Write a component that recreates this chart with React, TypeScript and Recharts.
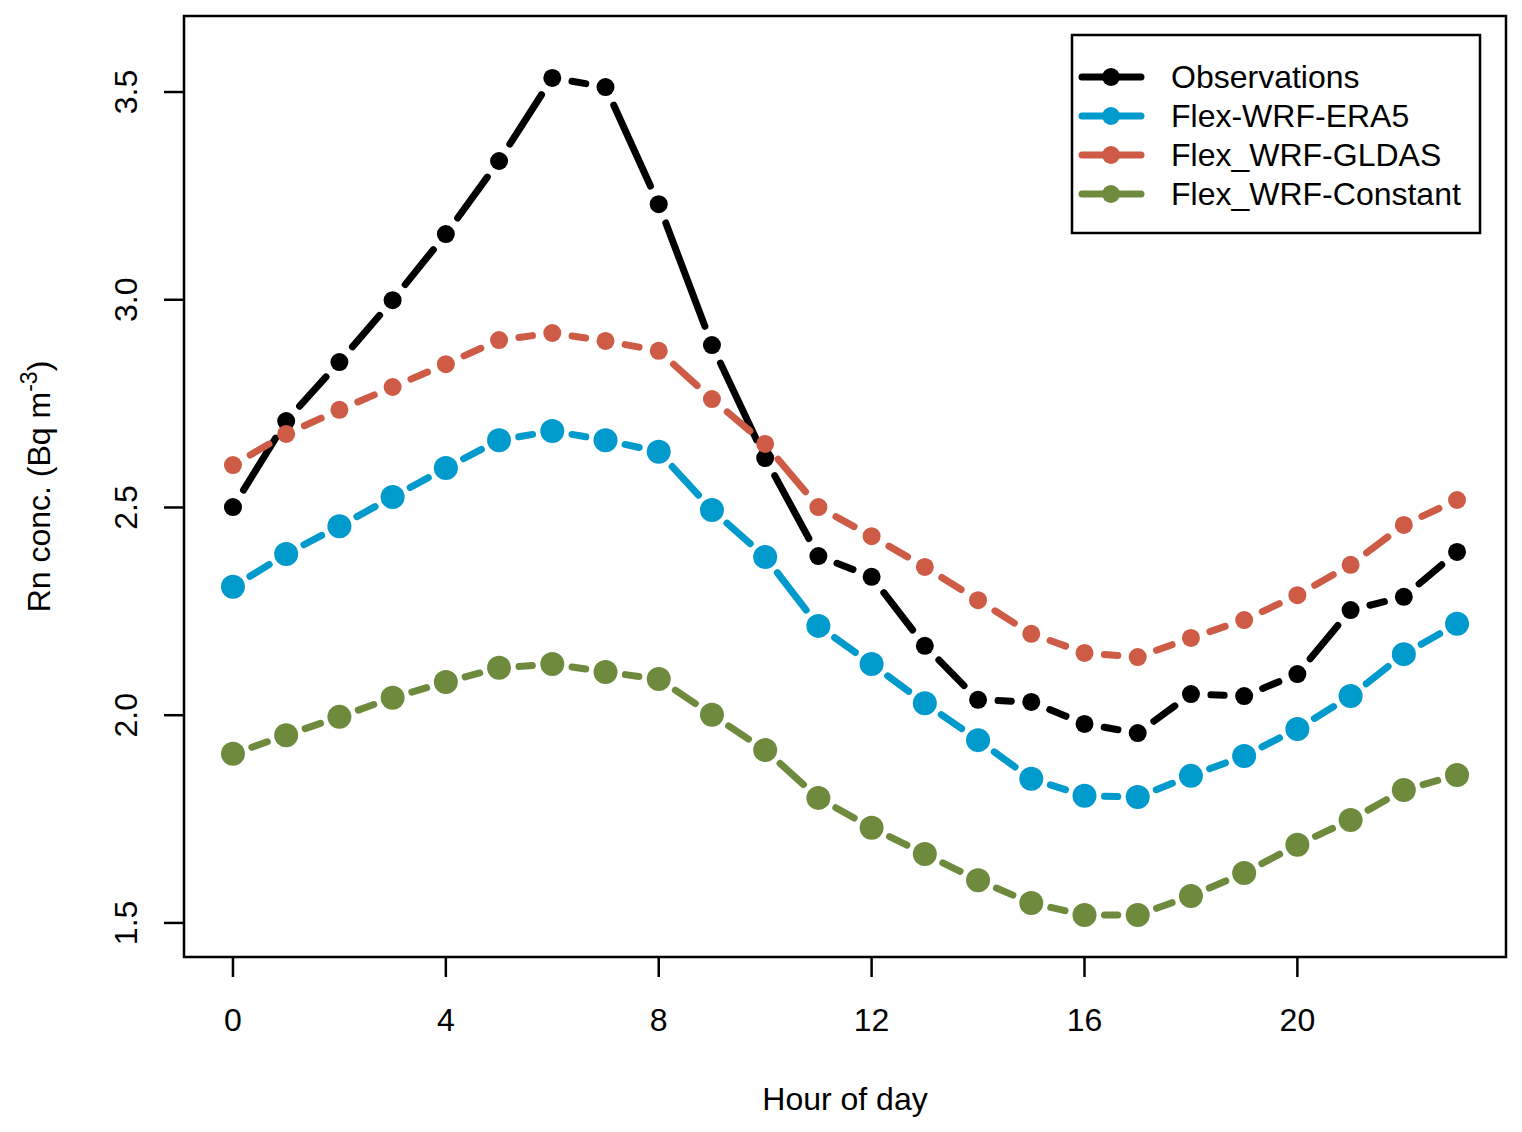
import { LineChart, Line, XAxis, YAxis, ReferenceArea } from "recharts";

// ---------------------------------------------------------------------------
// Data
// ---------------------------------------------------------------------------

const hours = [0, 1, 2, 3, 4, 5, 6, 7, 8, 9, 10, 11, 12, 13, 14, 15, 16, 17, 18, 19, 20, 21, 22, 23];

const observations = [
  2.501, 2.708, 2.85, 2.999, 3.158, 3.334, 3.534, 3.512, 3.23, 2.891, 2.619, 2.383,
  2.333, 2.167, 2.037, 2.032, 1.979, 1.957, 2.051, 2.046, 2.099, 2.253, 2.285, 2.393,
];

const era5 = [
  2.309, 2.388, 2.455, 2.525, 2.595, 2.662, 2.684, 2.662, 2.634, 2.494, 2.381, 2.215,
  2.123, 2.029, 1.94, 1.847, 1.806, 1.803, 1.854, 1.902, 1.967, 2.046, 2.147, 2.22,
];

const gldas = [
  2.602, 2.677, 2.735, 2.79, 2.845, 2.903, 2.92, 2.901, 2.877, 2.761, 2.653, 2.501,
  2.431, 2.357, 2.277, 2.196, 2.15, 2.14, 2.186, 2.229, 2.289, 2.362, 2.458, 2.518,
];

const constant = [
  1.907, 1.952, 1.996, 2.042, 2.08, 2.114, 2.123, 2.104, 2.087, 2.001, 1.916, 1.801,
  1.729, 1.666, 1.603, 1.548, 1.519, 1.519, 1.565, 1.62, 1.688, 1.748, 1.82, 1.856,
];

const xTicks = [0, 4, 8, 12, 16, 20];
const yTicks = [1.5, 2.0, 2.5, 3.0, 3.5];

const X_DOMAIN: [number, number] = [-0.92, 23.92];
const Y_DOMAIN: [number, number] = [1.418, 3.683];

const FONT = "'Liberation Sans', Arial, sans-serif";

// ---------------------------------------------------------------------------
// Dots with gapped segments (R type = "b")
// ---------------------------------------------------------------------------

const GAP = 20;
const LINE_W = 7;

function makeDot(color: string, r: number) {
  const cache: { x: number; y: number }[] = [];
  return (props: any) => {
    const { cx, cy, index } = props;
    cache[index] = { x: cx, y: cy };
    const p = props.points && props.points[index - 1];
    const prev = p ? { x: p.x, y: p.y } : cache[index - 1];
    let seg = null;
    if (index > 0 && prev && prev.x != null) {
      const dx = cx - prev.x;
      const dy = cy - prev.y;
      const d = Math.sqrt(dx * dx + dy * dy);
      if (d > 2 * GAP + 4) {
        const ux = dx / d;
        const uy = dy / d;
        seg = (
          <line
            x1={prev.x + ux * GAP}
            y1={prev.y + uy * GAP}
            x2={cx - ux * GAP}
            y2={cy - uy * GAP}
            stroke={color}
            strokeWidth={LINE_W}
            strokeLinecap="round"
          />
        );
      }
    }
    return (
      <g key={`dot-${index}`}>
        {seg}
        <circle cx={cx} cy={cy} r={r} fill={color} stroke="none" />
      </g>
    );
  };
}

const SERIES = [
  { key: "obs", name: "Observations", color: "#000000", r: 9, values: observations },
  { key: "era5", name: "Flex-WRF-ERA5", color: "#009ACD", r: 12, values: era5 },
  { key: "gldas", name: "Flex_WRF-GLDAS", color: "#CD5B45", r: 9, values: gldas },
  { key: "constant", name: "Flex_WRF-Constant", color: "#6E8B3D", r: 12, values: constant },
].map((s) => ({ ...s, dot: makeDot(s.color, s.r) }));

const chartData = hours.map((h, i) => {
  const row: Record<string, number> = { hour: h };
  for (const s of SERIES) row[s.key] = s.values[i];
  return row;
});

// ---------------------------------------------------------------------------
// Ticks and labels
// ---------------------------------------------------------------------------

const XTick = ({ x, y, payload }: any) => (
  <text x={x} y={y + 52} textAnchor="middle" fontSize={32} fontFamily={FONT} fill="#000">
    {payload.value}
  </text>
);

const YTick = ({ x, y, payload }: any) => (
  <text
    transform={`translate(${x - 25}, ${y}) rotate(-90)`}
    textAnchor="middle"
    fontSize={32}
    fontFamily={FONT}
    fill="#000"
  >
    {Number(payload.value).toFixed(1)}
  </text>
);

const XTitle = ({ viewBox }: any) => (
  <text
    x={viewBox.x + viewBox.width / 2}
    y={1110}
    textAnchor="middle"
    fontSize={32}
    fontFamily={FONT}
    fill="#000"
  >
    Hour of day
  </text>
);

const YTitle = ({ viewBox }: any) => (
  <text
    transform={`translate(50, ${viewBox.y + viewBox.height / 2}) rotate(-90)`}
    textAnchor="middle"
    fontSize={32}
    fontFamily={FONT}
    fill="#000"
  >
    Rn conc. (Bq m
    <tspan dy={-13} fontSize={23}>
      -3
    </tspan>
    <tspan dy={13}>)</tspan>
  </text>
);

// ---------------------------------------------------------------------------
// Component
// ---------------------------------------------------------------------------

export default function App() {
  return (
    <div style={{ position: "absolute", left: 0, top: 0, width: 1522, height: 1132, background: "#fff" }}>
      <LineChart
        width={1522}
        height={1132}
        data={chartData}
        margin={{ top: 16, right: 16, bottom: 75, left: 84 }}
      >
        <XAxis
          dataKey="hour"
          type="number"
          domain={X_DOMAIN}
          allowDataOverflow
          ticks={xTicks}
          interval={0}
          height={100}
          axisLine={false}
          tickSize={20}
          tickLine={{ stroke: "#000", strokeWidth: 2.5 }}
          tick={<XTick />}
          label={{ content: <XTitle /> }}
        />
        <YAxis
          type="number"
          domain={Y_DOMAIN}
          allowDataOverflow
          ticks={yTicks}
          interval={0}
          width={100}
          axisLine={false}
          tickSize={20}
          tickLine={{ stroke: "#000", strokeWidth: 2.5 }}
          tick={<YTick />}
          label={{ content: <YTitle /> }}
        />
        <ReferenceArea
          x1={X_DOMAIN[0]}
          x2={X_DOMAIN[1]}
          y1={Y_DOMAIN[0]}
          y2={Y_DOMAIN[1]}
          fill="none"
          stroke="#000"
          strokeWidth={2.5}
          ifOverflow="visible"
        />
        {SERIES.map((s) => (
          <Line
            key={s.key}
            dataKey={s.key}
            name={s.name}
            type="linear"
            stroke="none"
            dot={s.dot}
            activeDot={false}
            isAnimationActive={false}
          />
        ))}
      </LineChart>

      {/* legend */}
      <svg
        width={1522}
        height={1132}
        style={{ position: "absolute", left: 0, top: 0, pointerEvents: "none" }}
      >
        <rect x={1072} y={35} width={408} height={198} fill="#fff" stroke="#000" strokeWidth={2.5} />
        {SERIES.map((s, i) => {
          const cy = 77 + i * 39;
          return (
            <g key={s.key}>
              <line x1={1082} y1={cy} x2={1141} y2={cy} stroke={s.color} strokeWidth={7} strokeLinecap="round" />
              <circle cx={1111} cy={cy} r={9} fill={s.color} />
              <text x={1171} y={cy + 11} fontSize={32} fontFamily={FONT} fill="#000">
                {s.name}
              </text>
            </g>
          );
        })}
      </svg>
    </div>
  );
}
